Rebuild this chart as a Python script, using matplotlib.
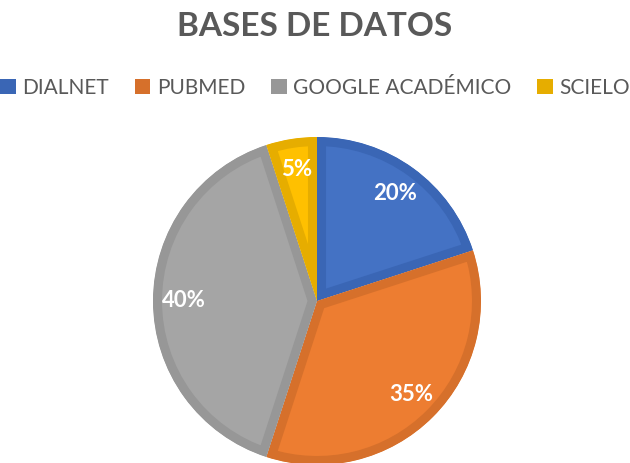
import matplotlib
matplotlib.use("Agg")
import matplotlib.pyplot as plt
from matplotlib.patches import Patch

# data
labels = ["DIALNET", "PUBMED", "GOOGLE ACADÉMICO", "SCIELO"]
valores = [20, 35, 40, 5]
colores = ["#4472C4", "#ED7D31", "#A5A5A5", "#FFC000"]
bordes = ["#3A66B5", "#D6702B", "#979797", "#E6AD00"]

plt.rcParams["font.family"] = ["Lato", "DejaVu Sans"]

fig = plt.figure(figsize=(6.3, 4.63), dpi=100)
ax = fig.add_axes([153 / 630, -2 / 463, 328 / 630, 328 / 463])

wedges, texts, autotexts = ax.pie(valores, colors=colores, startangle=90, counterclock=False,
                                  autopct="%1.0f%%", pctdistance=0.81,
                                  textprops=dict(color="white", fontsize=16, fontweight="bold"))

# inner darker border, clipped to each wedge
for w, b in zip(wedges, bordes):
    w.set_edgecolor(b)
    w.set_linewidth(13)
    w.set_joinstyle("miter")
    w.set_clip_on(True)
    w.set_clip_path(w)

ax.set_xlim(-1, 1)
ax.set_ylim(-1, 1)
ax.set_aspect("equal")

fig.text(0.5, 1 - 26 / 463, "BASES DE DATOS", ha="center", va="center",
         fontsize=24, fontweight="bold", color="#595959")

handles = [Patch(facecolor=b, edgecolor="none") for b in bordes]
fig.legend(handles, labels, loc="center", bbox_to_anchor=(0.5, 1 - 88 / 463), ncol=4,
           frameon=False, fontsize=15, handlelength=0.75, handleheight=0.75,
           handletextpad=0.3, columnspacing=1.25, labelcolor="#595959")

fig.savefig("out.png", dpi=100)
